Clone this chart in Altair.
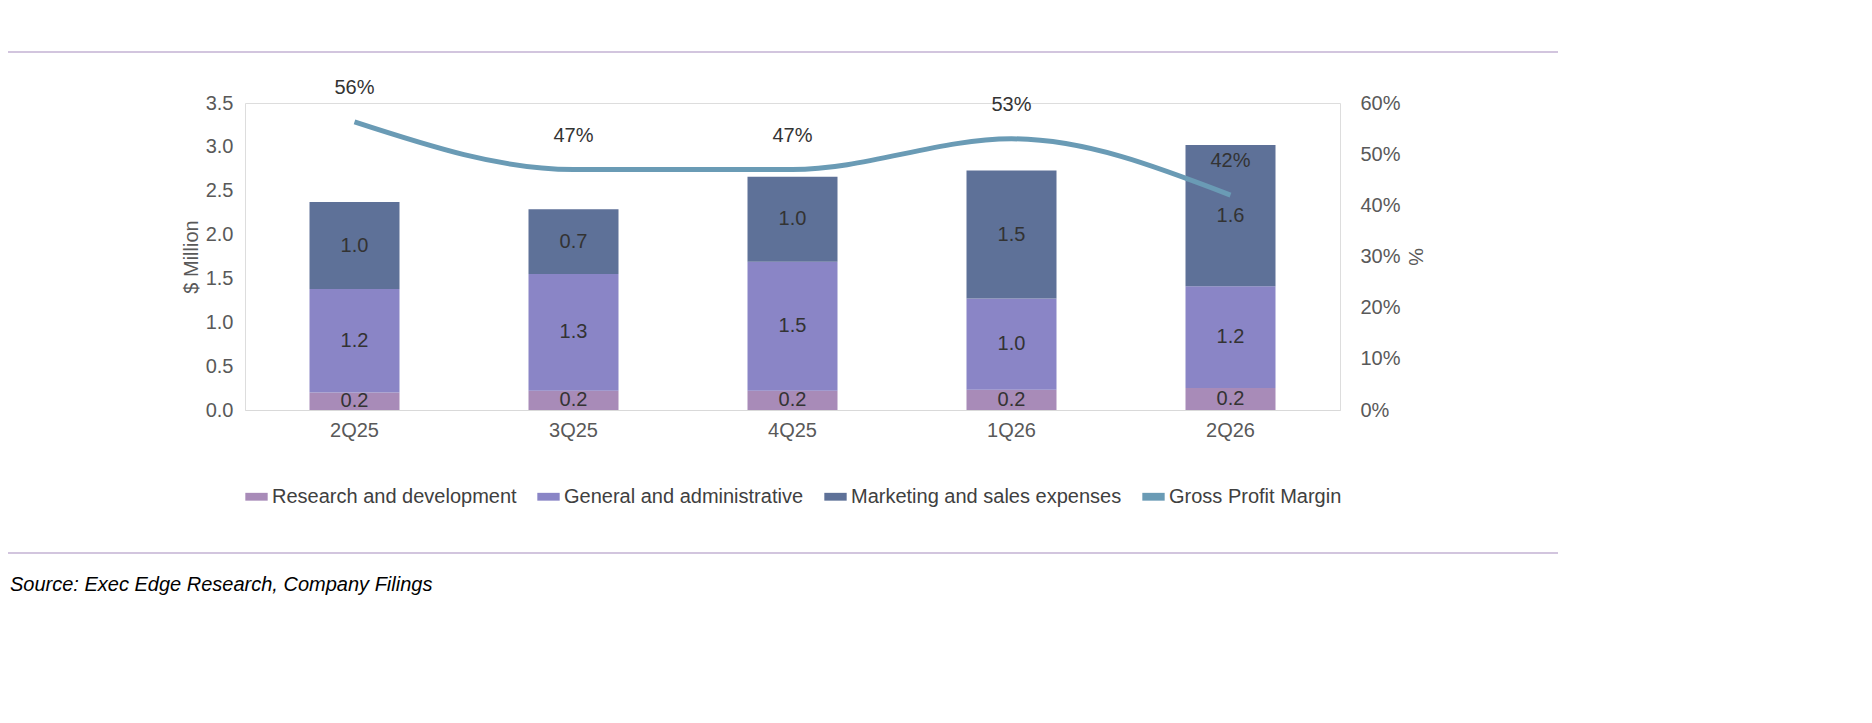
import pandas as pd
import altair as alt

quarters = ["2Q25", "3Q25", "4Q25", "1Q26", "2Q26"]
rnd = [0.20, 0.22, 0.22, 0.23, 0.25]
gna = [1.18, 1.33, 1.47, 1.04, 1.16]
mks = [0.99, 0.74, 0.97, 1.46, 1.61]
margin = [0.563, 0.47, 0.47, 0.53, 0.42]
margin_labels = ["56%", "47%", "47%", "53%", "42%"]

series = ["Research and development", "General and administrative",
          "Marketing and sales expenses", "Gross Profit Margin"]
colors = ["#A88BB8", "#8A85C6", "#5E7198", "#6A9BB5"]

rows = []
for i, q in enumerate(quarters):
    for k, (name, vals) in enumerate(zip(series[:3], [rnd, gna, mks])):
        rows.append({"q": q, "series": name, "v": vals[i], "ord": k, "lab": f"{vals[i]:.1f}"})
bars_df = pd.DataFrame(rows)
line_df = pd.DataFrame({"q": quarters, "m": margin, "lab": margin_labels,
                        "series": "Gross Profit Margin"})

xenc = alt.X("q:N", sort=quarters, title=None,
             scale=alt.Scale(paddingInner=0.6, paddingOuter=0.3),
             axis=alt.Axis(labelAngle=0, labelFontSize=20, labelColor="#595959",
                           domainColor="#D9D9D9", ticks=False, labelPadding=10))
xplain = alt.X("q:N", sort=quarters)
color = alt.Color("series:N", scale=alt.Scale(domain=series, range=colors),
                  legend=alt.Legend(orient="bottom", direction="horizontal", title=None,
                                    labelFontSize=20, labelColor="#404040",
                                    symbolType="M-1,-0.35H1V0.35H-1Z", symbolSize=500,
                                    symbolStrokeWidth=0, columnPadding=20, offset=45,
                                    labelLimit=400))

yl = alt.Y("sum(v):Q", stack="zero", title="$ Million",
           scale=alt.Scale(domain=[0, 3.5]),
           axis=alt.Axis(orient="left", values=[0, 0.5, 1, 1.5, 2, 2.5, 3, 3.5], format=".1f",
                         grid=False, domain=False, ticks=False, labelFontSize=20,
                         labelColor="#595959", titleFontSize=20, titleColor="#595959",
                         titleFontWeight="normal", labelPadding=12))

bars = alt.Chart(bars_df).mark_bar(size=90, strokeWidth=0).encode(
    x=xenc, y=yl, color=color, order=alt.Order("ord:Q"))
bar_text = alt.Chart(bars_df).transform_stack(
    stack="v", groupby=["q"], as_=["lo", "hi"], sort=[alt.SortField("ord")]
).transform_calculate(mid="(datum.lo + datum.hi) / 2").mark_text(
    fontSize=20, color="#333333").encode(
    x=xplain,
    y=alt.Y("mid:Q", scale=alt.Scale(domain=[0, 3.5]), axis=None),
    text="lab:N")

yr = alt.Y("m:Q", title="%", scale=alt.Scale(domain=[0, 0.6]),
           axis=alt.Axis(orient="right", values=[0, .1, .2, .3, .4, .5, .6], format=".0%",
                         grid=False, domain=False, ticks=False, labelFontSize=20,
                         labelColor="#595959", titleFontSize=20, titleColor="#595959",
                         titleFontWeight="normal", labelPadding=20, titleAngle=90))
line = alt.Chart(line_df).mark_line(strokeWidth=5, interpolate="monotone").encode(
    x=xplain, y=yr, color=color)
line_text = alt.Chart(line_df).mark_text(fontSize=20, color="#333333", dy=-34).encode(
    x=xplain, y=alt.Y("m:Q", scale=alt.Scale(domain=[0, 0.6]), axis=None),
    text="lab:N")

deco = pd.DataFrame({"d": [0]})
rule_top = alt.Chart(deco).mark_rule(color="#A58BBD", strokeWidth=1.2).encode(
    x=alt.value(-237), x2=alt.value(1313), y=alt.value(-51))
rule_bot = alt.Chart(deco).mark_rule(color="#A58BBD", strokeWidth=1.2).encode(
    x=alt.value(-237), x2=alt.value(1313), y=alt.value(450))
source = alt.Chart(deco).mark_text(text="Source: Exec Edge Research, Company Filings",
                                   fontSize=20, fontStyle="italic", align="left",
                                   color="#000000").encode(x=alt.value(-235), y=alt.value(482))

chart = alt.layer(bars, bar_text, line, line_text, rule_top, rule_bot, source).resolve_scale(
    y="independent").properties(
    width=1095, height=307,
    autosize=alt.AutoSizeParams(type="none"),
    padding={"left": 237, "top": 95, "right": 520, "bottom": 300},
    title=alt.TitleParams("Chart 2: Commercial Investment Builds Ahead of Revenue as Gross Margin Moderates",
                          anchor="start", dx=-235, fontSize=25, color="#A58BBD",
                          fontWeight="bold", offset=62),
).configure_view(stroke=None).configure(font="Liberation Sans")

chart.save("out.html", embed_options={"renderer": "svg", "actions": False})
